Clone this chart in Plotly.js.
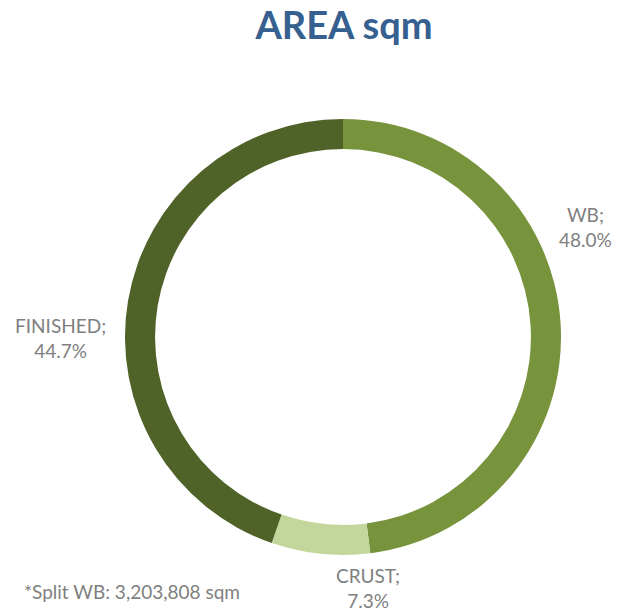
<!DOCTYPE html>
<html>
<head>
<meta charset="utf-8">
<script src="https://cdn.plot.ly/plotly-3.0.1.min.js"></script>
<style>html,body{margin:0;padding:0;background:#fff;}#chart{width:619px;height:609px;}</style>
</head>
<body>
<div id="chart"></div>
<script>
var categories = ["WB", "CRUST", "FINISHED"];
var shares = [48.0, 7.3, 44.7];
var sliceColors = ["#77933C", "#C3D69B", "#4F6228"];
var footnote = "*Split WB: 3,203,808 sqm";
var chartTitle = "AREA sqm";

var W = 619, H = 609;
function px(x){ return x / W; }
function py(y){ return 1 - y / H; }

var labelPos = {
  "WB": [585, 227],
  "CRUST": [368, 588],
  "FINISHED": [60, 338]
};

var annotations = categories.map(function(c, i){
  return {
    text: c + ";<br>" + shares[i].toFixed(1) + "%",
    x: px(labelPos[c][0]), y: py(labelPos[c][1]),
    xref: "paper", yref: "paper", showarrow: false,
    xanchor: "center", yanchor: "middle", align: "center",
    font: {family: "Lato, 'Open Sans', sans-serif", size: 19, color: "#7F7F7F"}
  };
});
annotations.push({
  text: footnote, x: px(22), y: py(591), xref: "paper", yref: "paper",
  showarrow: false, xanchor: "left", yanchor: "middle",
  font: {family: "Lato, 'Open Sans', sans-serif", size: 19, color: "#7F7F7F"}
});

var cx = 343, cy = 337, r = 218;
var trace = {
  type: "pie",
  labels: categories,
  values: shares,
  hole: 0.862,
  sort: false,
  direction: "clockwise",
  rotation: 0,
  textinfo: "none",
  hoverinfo: "label+percent",
  marker: {colors: sliceColors, line: {color: "#ffffff", width: 0}},
  domain: {x: [px(cx - r), px(cx + r)], y: [py(cy + r), py(cy - r)]},
  showlegend: false
};

var layout = {
  width: W, height: H,
  margin: {l: 0, r: 0, t: 0, b: 0},
  paper_bgcolor: "#ffffff",
  title: {
    text: "<b>" + chartTitle + "</b>",
    x: px(344), xanchor: "center", y: py(26), yanchor: "middle",
    font: {family: "Lato, 'Open Sans', sans-serif", size: 38, color: "#35608F"}
  },
  annotations: annotations,
  showlegend: false
};

Plotly.newPlot("chart", [trace], layout, {displayModeBar: false, staticPlot: true});
</script>
</body>
</html>
